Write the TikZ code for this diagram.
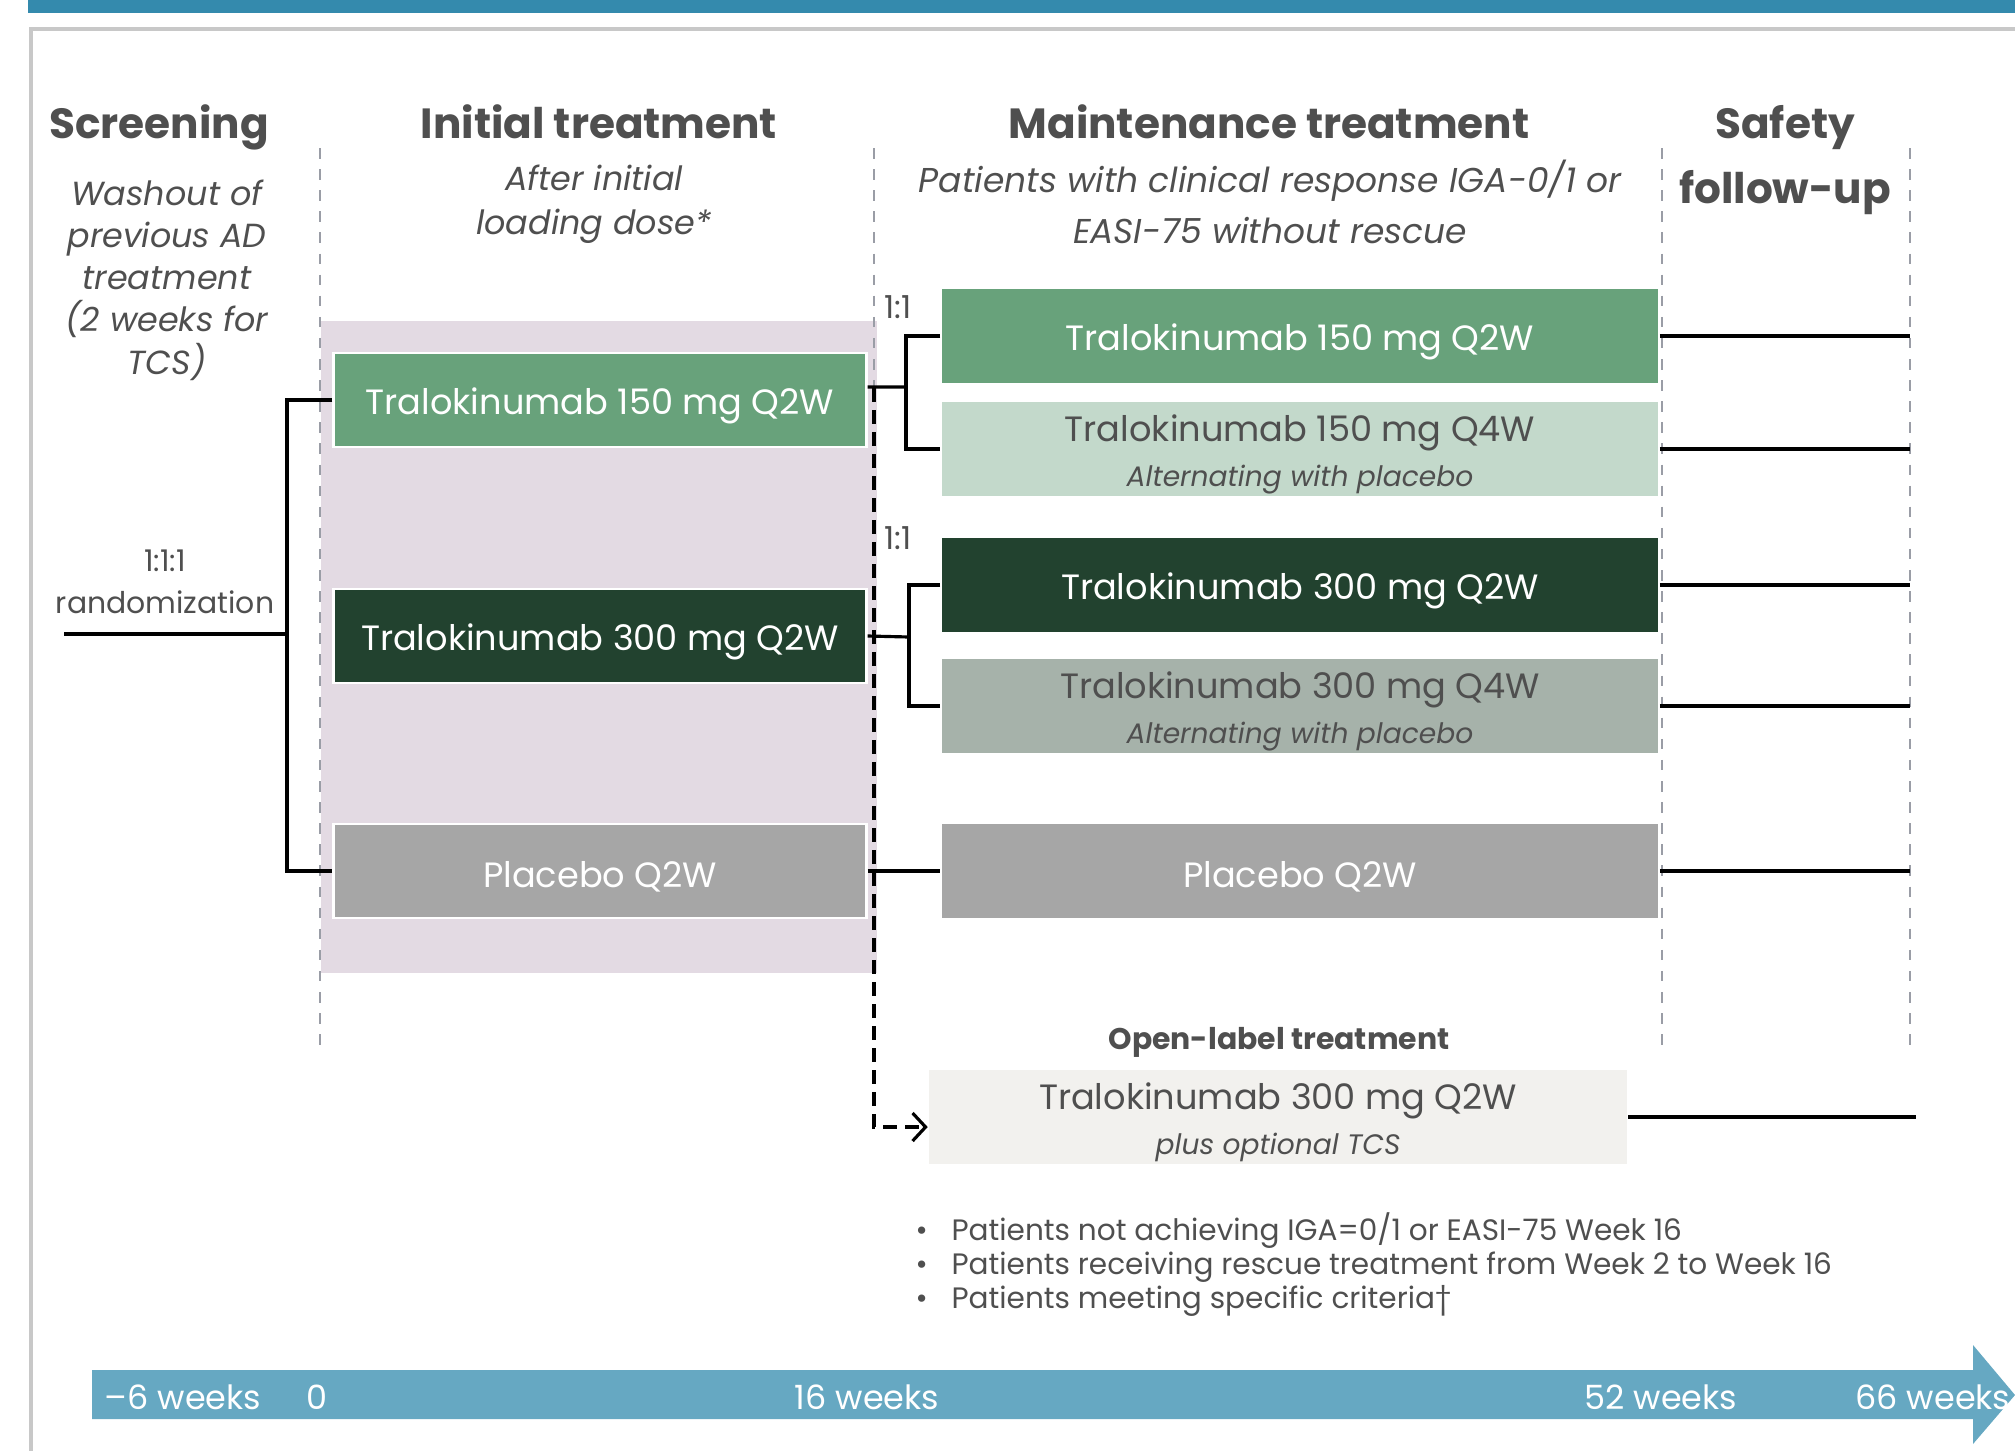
\documentclass[tikz,border=0pt]{standalone}
\usepackage{fontspec}
\setmainfont{Poppins}
\usetikzlibrary{arrows.meta}

\definecolor{topblue}{HTML}{348AAD}
\definecolor{lineblue}{HTML}{66A8C2}
\definecolor{framegray}{HTML}{C8C8C8}
\definecolor{sepgray}{HTML}{9A9DA6}
\definecolor{lilac}{HTML}{E3DAE3}
\definecolor{greenmid}{HTML}{68A27B}
\definecolor{greenlight}{HTML}{C3D9CB}
\definecolor{greendark}{HTML}{22422F}
\definecolor{greengray}{HTML}{A6B2AA}
\definecolor{placebogray}{HTML}{A6A6A6}
\definecolor{openlabel}{HTML}{F2F1EE}
\definecolor{inkgray}{HTML}{4F4F4F}

\newcommand{\altline}[1]{{\fontsize{8}{12.8}\selectfont\itshape #1}}

\begin{document}
\begin{tikzpicture}[
    x = 0.01cm, y = -0.01cm, % one unit per pixel, y downwards
    line width = 0.9pt,
    title/.style = {text = inkgray, font = \fontsize{12}{18.4}\selectfont\bfseries, align = center},
    sub/.style = {text = inkgray, font = \fontsize{9.5}{12}\selectfont\itshape, align = center},
    box/.style = {minimum height = 0.94cm, inner sep = 0pt, align = center, font = \fontsize{10}{12.8}\selectfont,
                  execute at begin node = {\rule{0pt}{0.38cm}}},
    twoline/.style = {text height = 0.74cm, text depth = 0cm},
    lbox/.style = {box, minimum width = 5.32cm, draw = white, line width = 0.8pt, text = white},
    rbox/.style = {box, minimum width = 7.16cm},
    ratio/.style = {text = inkgray, font = \fontsize{9}{12}\selectfont},
    tick/.style = {text = white, font = \fontsize{9.5}{11}\selectfont},
    crit/.style = {text = inkgray, font = \fontsize{8.4}{10}\selectfont, anchor = base west, inner sep = 0pt}
]

\useasboundingbox (0,0) rectangle (2015,1451);

% Frame and phases
\fill[topblue] (28,0) rectangle (2015,13);
\draw[framegray, line width = 1pt] (2015,29) -- (31,29) -- (31,1451);
\fill[lilac] (321,321) rectangle (877,973);
\foreach \x in {320, 1662, 1910}
    \draw[sepgray, dashed, line width = 0.6pt] (\x,148) -- (\x,1054);
\draw[sepgray, dashed, line width = 0.6pt] (874,148) -- (874,388);

% Headings
\node[title, anchor = base] (screen) at (159,138) {Screening};
\node[title, anchor = base] (init) at (599,138) {Initial treatment};
\node[title, anchor = base] (maint) at (1269,138) {Maintenance treatment};
\node[title] (safety) at (1785,160) {Safety\\follow-up};

\node[sub] (washout) at (167,280) {Washout of\\previous AD\\treatment\\(2 weeks for\\TCS)};
\node[sub, font = \fontsize{9.5}{12.5}\selectfont\itshape] (loading) at (594,204) {After initial\\loading dose*};
\node[sub, font = \fontsize{9.8}{14.5}\selectfont\itshape] (response) at (1270,202) {Patients with clinical response IGA-0/1 or\\EASI-75 without rescue};

% Initial treatment arms
\node[lbox, fill = greenmid] (l150) at (600,400) {Tralokinumab 150 mg Q2W};
\node[lbox, fill = greendark] (l300) at (600,636) {Tralokinumab 300 mg Q2W};
\node[lbox, fill = placebogray] (lpbo) at (600,871) {Placebo Q2W};

% Maintenance arms
\node[rbox, fill = greenmid, text = white] (m150a) at (1300,336) {Tralokinumab 150 mg Q2W};
\node[rbox, twoline, fill = greenlight, text = inkgray] (m150b) at (1300,449) {Tralokinumab 150 mg Q4W\\\altline{Alternating with placebo}};
\node[rbox, fill = greendark, text = white] (m300a) at (1300,585) {Tralokinumab 300 mg Q2W};
\node[rbox, twoline, fill = greengray, text = inkgray] (m300b) at (1300,706) {Tralokinumab 300 mg Q4W\\\altline{Alternating with placebo}};
\node[rbox, fill = placebogray, text = white] (mpbo) at (1300,871) {Placebo Q2W};

% Open-label arm
\node[text = inkgray, font = \fontsize{8.5}{10}\selectfont\bfseries] (oltitle) at (1279,1042) {Open-label treatment};
\node[box, twoline, minimum width = 6.97cm, fill = openlabel, text = inkgray] (ol) at (1278,1117) {Tralokinumab 300 mg Q2W\\\altline{plus optional TCS}};

% Randomization
\node[ratio, font = \fontsize{8.5}{12}\selectfont, align = center] (rand) at (165,582) {1:1:1\\randomization};
\node[ratio] (r150) at (898,307) {1:1};
\node[ratio] (r300) at (898,538) {1:1};

% Criteria
\foreach \t [count=\i] in {Patients not achieving IGA=0/1 or EASI-75 Week 16,
                           Patients receiving rescue treatment from Week 2 to Week 16,
                           Patients meeting specific criteria\textdagger}
    \node[crit] (crit\i) at (914,1240+34*\i-34) {\makebox[0.36cm][l]{\textbullet}\t};

% Timeline
\fill[lineblue] (92,1370) -- (1973,1370) -- (1973,1345) -- (2015,1395)
    -- (1973,1444) -- (1973,1419) -- (92,1419) -- cycle;
\node[tick] (wk6) at (183,1397) {–6 weeks};
\node[tick] (wk0) at (317,1397) {0};
\node[tick] (wk16) at (867,1397) {16 weeks};
\node[tick] (wk52) at (1661,1397) {52 weeks};
\node[tick] (wk66) at (1933,1397) {66 weeks};

% Edges
\coordinate (start) at (64,634);
\coordinate (split) at (287,634);
\coordinate (fork150) at (906,387);
\coordinate (fork300) at (909,637);
\coordinate (rescue) at (874,388);
\coordinate (fu) at (1910,0);
\coordinate (fuol) at (1916,0);

\draw (start) -- (split);
\draw (l150.west) -| (split) |- (lpbo.west);
\draw ([yshift = 0.13cm]l150.east) -- (fork150);
\draw (m150a.west) -| (fork150) |- (m150b.west);
\draw (l300.east) -- (fork300);
\draw (m300a.west) -| (fork300) |- (m300b.west);
\draw (lpbo.east) -- (mpbo.west);
\foreach \b in {m150a, m150b, m300a, m300b, mpbo}
    \draw (\b.east) -- (\b.east -| fu);
\draw (ol.east) -- (ol.east -| fuol);
\draw[dash pattern = on 0.14cm off 0.08cm, -{Straight Barb[length = 0.13cm, width = 0.28cm]}]
    (rescue) |- ([yshift = -0.1cm]ol.west);

\end{tikzpicture}
\end{document}
